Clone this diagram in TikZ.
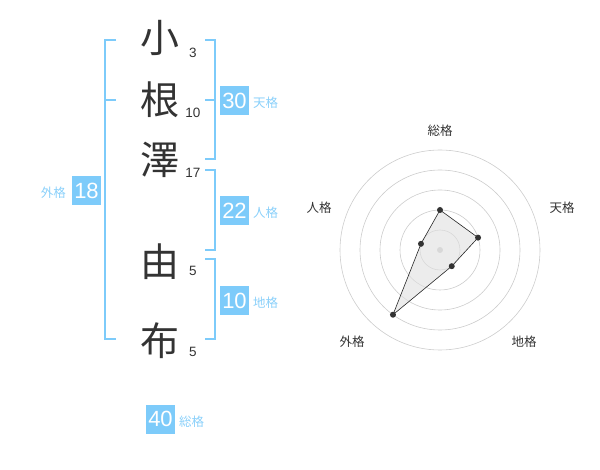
\documentclass[tikz,border=0pt]{standalone}
\usepackage{fontspec}
\setmainfont{Liberation Sans}
\newfontfamily\jp{Noto Sans CJK JP}
\definecolor{skyblue}{HTML}{7DCBFA}
\definecolor{inkgray}{HTML}{333333}

\begin{document}
\begin{tikzpicture}[x=1pt, y=-1pt,
    kanji/.style={font=\jp\fontsize{39}{39}\selectfont, text=inkgray, inner sep=0pt},
    strokes/.style={font=\fontsize{13.5}{13.5}\selectfont, text=inkgray, inner sep=0pt},
    scorebox/.style={fill=skyblue, text=white, minimum size=29pt, inner sep=0pt, font=\fontsize{22}{22}\selectfont},
    scorename/.style={font=\jp\fontsize{12.5}{12.5}\selectfont, text=skyblue!90, inner sep=0pt},
    bracket/.style={draw=skyblue, line width=2pt},
    ring/.style={draw=black!20, line width=0.6pt},
    axislabel/.style={font=\jp\fontsize{12.5}{12.5}\selectfont, text=inkgray, inner sep=0pt}]
        \useasboundingbox (0,0) rectangle (600,470);

        % name characters and stroke counts
        \node[kanji] (c1) at (160,38) {小};
        \node[kanji] (c2) at (160,100) {根};
        \node[kanji] (c3) at (160,160) {澤};
        \node[kanji] (c4) at (160,262) {由};
        \node[kanji] (c5) at (160,341) {布};
        \node[strokes] (s1) at (193,53) {3};
        \node[strokes] (s2) at (193,113) {10};
        \node[strokes] (s3) at (193,173) {17};
        \node[strokes] (s4) at (193,271) {5};
        \node[strokes] (s5) at (193,352) {5};

        % brackets
        \coordinate (gtop) at (116,40);
        \coordinate (gbot) at (116,339);
        \draw[bracket] (gtop) -| (105,339) -- (gbot);
        \draw[bracket] (105,100) -- (116,100);
        \coordinate (ttop) at (205,40);
        \coordinate (tbot) at (205,159);
        \draw[bracket] (ttop) -| (215,159) -- (tbot);
        \draw[bracket] (205,100) -- (215,100);
        \coordinate (jtop) at (205,170);
        \coordinate (jbot) at (205,250);
        \draw[bracket] (jtop) -| (215,250) -- (jbot);
        \coordinate (ctop) at (205,259);
        \coordinate (cbot) at (205,339);
        \draw[bracket] (ctop) -| (215,339) -- (cbot);

        % scores
        \node[scorebox] (ten) at (234.5,100.5) {30};
        \node[scorename, anchor=west] (tenl) at (253,103) {天格};
        \node[scorebox] (jin) at (234.5,210.5) {22};
        \node[scorename, anchor=west] (jinl) at (253,213) {人格};
        \node[scorebox] (chi) at (234.5,300.5) {10};
        \node[scorename, anchor=west] (chil) at (253,303) {地格};
        \node[scorebox] (gai) at (86.5,190.5) {18};
        \node[scorename, anchor=east] (gail) at (66,193) {外格};
        \node[scorebox] (sou) at (160.5,419) {40};
        \node[scorename, anchor=west] (soul) at (179,422) {総格};

        % radar chart
        \begin{scope}[shift={(440,250)}, yscale=-1]
            \coordinate (O) at (0,0);
            \foreach \r in {20,40,60,80,100}
                \draw[ring] (O) circle[radius=\r pt];
            \fill[black!20] (O) circle[radius=3pt];
            \coordinate (psou) at (90:40);
            \coordinate (pten) at (18:40);
            \coordinate (pchi) at (-54:20);
            \coordinate (pgai) at (-126:80);
            \coordinate (pjin) at (162:20);
            \draw[fill=black!12, fill opacity=0.6, draw opacity=1, line width=0.6pt, draw=black!85]
                (psou) -- (pten) -- (pchi) -- (pgai) -- (pjin) -- cycle;
            \foreach \p in {psou,pten,pchi,pgai,pjin}
                \fill[inkgray] (\p) circle[radius=3pt];
        \end{scope}
        \node[axislabel] (lsou) at (440,131) {総格};
        \node[axislabel] (lten) at (562,208) {天格};
        \node[axislabel] (lchi) at (524,342) {地格};
        \node[axislabel] (lgai) at (352,342) {外格};
        \node[axislabel] (ljin) at (319,208) {人格};
    \end{tikzpicture}
\end{document}
